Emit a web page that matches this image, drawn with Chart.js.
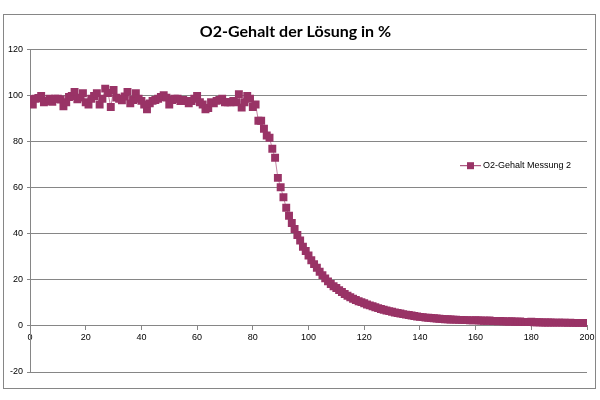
<!DOCTYPE html>
<html>
<head>
<meta charset="utf-8">
<script src="https://cdn.jsdelivr.net/npm/chart.js@4"></script>
<style>
  html, body { margin: 0; padding: 0; background: #fff; }
  #wrap { width: 600px; height: 400px; }
</style>
</head>
<body>
<div id="wrap"><canvas id="o2Chart" width="600" height="400"></canvas></div>
<script>
// === DATA === //
const chartTitle = "O2-Gehalt der Lösung in %";
const seriesLabel = "O2-Gehalt Messung 2";

// time axis (one reading per step)
const timeValues = [
  0, 1, 2, 3, 4, 5, 6, 7, 8, 9, 10, 11, 12, 13, 14, 15, 16, 17, 18, 19,
  20, 21, 22, 23, 24, 25, 26, 27, 28, 29, 30, 31, 32, 33, 34, 35, 36, 37, 38, 39,
  40, 41, 42, 43, 44, 45, 46, 47, 48, 49, 50, 51, 52, 53, 54, 55, 56, 57, 58, 59,
  60, 61, 62, 63, 64, 65, 66, 67, 68, 69, 70, 71, 72, 73, 74, 75, 76, 77, 78, 79,
  80, 81, 82, 83, 84, 85, 86, 87, 88, 89, 90, 91, 92, 93, 94, 95, 96, 97, 98, 99,
  100, 101, 102, 103, 104, 105, 106, 107, 108, 109, 110, 111, 112, 113, 114, 115, 116, 117, 118, 119,
  120, 121, 122, 123, 124, 125, 126, 127, 128, 129, 130, 131, 132, 133, 134, 135, 136, 137, 138, 139,
  140, 141, 142, 143, 144, 145, 146, 147, 148, 149, 150, 151, 152, 153, 154, 155, 156, 157, 158, 159,
  160, 161, 162, 163, 164, 165, 166, 167, 168, 169, 170, 171, 172, 173, 174, 175, 176, 177, 178, 179,
  180, 181, 182, 183, 184, 185, 186, 187, 188, 189, 190, 191, 192, 193, 194, 195, 196, 197, 198, 199,
  200
];

// O2 content in % per reading
const o2Values = [
  98.3, 96, 98.5, 98.8, 99.7, 97, 97.5, 98.5, 97.2, 98.5, 98.5, 98.2, 95.2, 97, 99.3, 99.7, 101.5, 98.3, 99, 100.9,
  97, 96, 98.5, 99.7, 100.9, 96, 98.5, 102.9, 101, 94.9, 102.3, 99, 98.5, 97.8, 99.5, 101.5, 96.5, 98, 100.9, 98.5,
  97.6, 96, 93.9, 96.5, 97.6, 98, 98.5, 99.3, 100, 99, 96, 98, 98.5, 98.5, 97.5, 98, 97.5, 96.5, 97.5, 98.5,
  99.7, 97, 96, 93.9, 94.5, 97, 96.5, 97.6, 98, 98.5, 97, 97, 97, 97.5, 97, 100.5, 94.7, 97, 99.7, 98.5,
  94.9, 96, 89, 89, 85.5, 82.6, 81.6, 76.8, 72.9, 64.2, 60.1, 55.8, 51.2, 47.8, 44.6, 42, 39.4, 37, 34.3, 32.5,
  30.5, 28.5, 26.8, 25.2, 23.5, 22, 20.6, 19.3, 18.2, 17.2, 16.4, 15.5, 14.7, 13.8, 13.1, 12.4, 11.8, 11.2, 10.7, 10.3,
  9.8, 9.3, 8.9, 8.5, 8.1, 7.7, 7.3, 7, 6.7, 6.4, 6.1, 5.8, 5.6, 5.4, 5.1, 4.9, 4.7, 4.5, 4.3, 4.1,
  3.9, 3.8, 3.6, 3.5, 3.4, 3.3, 3.2, 3.1, 3, 2.9, 2.9, 2.8, 2.7, 2.7, 2.6, 2.6, 2.5, 2.5, 2.4, 2.4,
  2.5, 2.3, 2.3, 2.2, 2.2, 2.3, 2.1, 2.1, 2, 2.1, 2, 1.9, 1.9, 2, 1.8, 1.8, 1.9, 1.7, 1.7, 1.7,
  1.8, 1.6, 1.6, 1.6, 1.5, 1.5, 1.5, 1.5, 1.4, 1.4, 1.4, 1.4, 1.4, 1.3, 1.4, 1.3, 1.3, 1.3, 1.3, 1.3,
  1.2
];

// axis ranges / ticks
const xMin = 0, xMax = 200, xStep = 20;
const yMin = -20, yMax = 120, yStep = 20;

const markColor = "#993366";
const gridColor = "#868686";
const tickFont = { family: "Liberation Sans", size: 9 };

/// === PLUGINS === ///
// white background + outer frame like the Excel chart object
const framePlugin = {
  id: "frame",
  beforeDraw(chart) {
    const ctx = chart.ctx;
    ctx.save();
    ctx.fillStyle = "#fff";
    ctx.fillRect(0, 0, chart.width, chart.height);
    ctx.strokeStyle = gridColor;
    ctx.lineWidth = 1;
    ctx.strokeRect(3.5, 14.5, 592, 374);
    ctx.restore();
  },
};

// legend drawn inside the plot area, on the right
const insideLegend = {
  id: "insideLegend",
  afterDraw(chart) {
    const ctx = chart.ctx;
    const area = chart.chartArea;
    const x = area.right - 127;
    const y = area.top + 116.5;
    ctx.save();
    ctx.strokeStyle = markColor;
    ctx.lineWidth = 1;
    ctx.beginPath();
    ctx.moveTo(x, y);
    ctx.lineTo(x + 21, y);
    ctx.stroke();
    ctx.fillStyle = markColor;
    ctx.fillRect(x + 7, y - 3.5, 7, 7);
    ctx.fillStyle = "#000";
    ctx.font = "9px 'Liberation Sans'";
    ctx.textBaseline = "middle";
    ctx.fillText(seriesLabel, x + 23, y);
    ctx.restore();
  },
};

/// === CHART === ///
new Chart(document.getElementById("o2Chart"), {
  type: "line",
  data: {
    labels: timeValues,
    datasets: [
      {
        label: seriesLabel,
        data: o2Values,
        borderColor: "rgba(153, 51, 102, 0.6)",
        borderWidth: 1,
        pointStyle: "rect",
        pointRadius: 5.6,
        pointBorderWidth: 0,
        pointBackgroundColor: markColor,
        tension: 0,
      },
    ],
  },
  options: {
    responsive: false,
    animation: false,
    layout: {
      padding: { left: 4, right: 13, top: 0, bottom: 28 },
    },
    plugins: {
      legend: { display: false },
      tooltip: { enabled: false },
      title: {
        display: true,
        text: chartTitle,
        color: "#000",
        font: { family: "Lato", size: 16, weight: "bold" },
        padding: { top: 22, bottom: 8 },
      },
    },
    scales: {
      x: {
        type: "linear",
        position: { y: 0 },
        min: xMin,
        max: xMax,
        ticks: { stepSize: xStep, color: "#000", font: tickFont, padding: 2, maxRotation: 0 },
        grid: { drawOnChartArea: false, drawTicks: true, tickLength: 4, color: gridColor },
        border: { color: gridColor },
      },
      y: {
        min: yMin,
        max: yMax,
        ticks: { stepSize: yStep, color: "#000", font: tickFont, padding: 4 },
        grid: { color: gridColor, tickLength: 3 },
        border: { color: gridColor },
      },
    },
  },
  plugins: [framePlugin, insideLegend],
});
</script>
</body>
</html>
